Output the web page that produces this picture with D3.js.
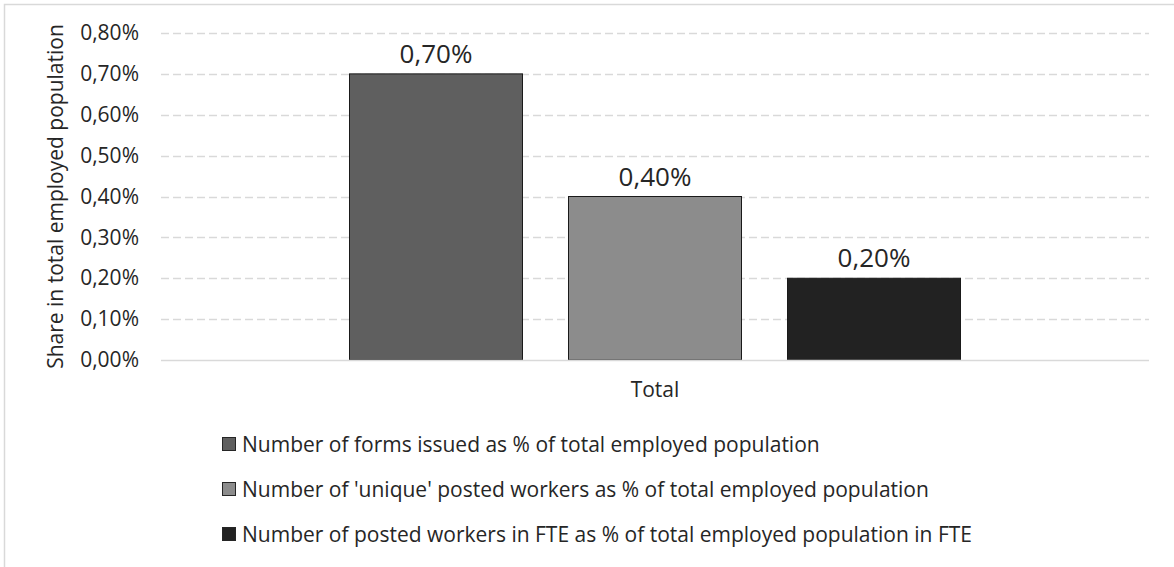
<!DOCTYPE html>
<html><head><meta charset="utf-8">
<script src="https://cdn.jsdelivr.net/npm/d3@7"></script>
<style>body{margin:0;background:#fff}svg{display:block}text{font-family:"Open Sans",sans-serif;fill:#262626}</style>
</head><body>
<script>
const categories = ["Total"];
const seriesNames = [
  "Number of forms issued as % of total employed population",
  "Number of 'unique' posted workers as % of total employed population",
  "Number of posted workers in FTE as % of total employed population in FTE"
];
const seriesValues = [0.70, 0.40, 0.20];
const seriesColors = ["#5f5f5f", "#8c8c8c", "#222222"];
const yTicks = [0, 0.1, 0.2, 0.3, 0.4, 0.5, 0.6, 0.7, 0.8];
const yTitle = "Share in total employed population";

const W = 1174, H = 567;
const svg = d3.select("body").append("svg").attr("width", W).attr("height", H);
svg.append("rect").attr("x", 4.5).attr("y", 4.5).attr("width", W + 10).attr("height", H + 10)
  .attr("fill", "#fff").attr("stroke", "#d9d9d9").attr("stroke-width", 1.5);

const m = {l: 161, r: 1149, t: 33, b: 360};
const y = d3.scaleLinear().domain([0, 0.8]).range([m.b, m.t]);
const x0 = d3.scaleBand().domain(categories).range([m.l, m.r]);
const groupW = 173 * 3 + 46 * 2;
const x1 = d3.scaleBand().domain(seriesNames)
  .range([0, groupW]).paddingInner(46 / 219);
const fmt = v => d3.format(".2f")(v).replace(".", ",") + "%";

// grid
svg.append("g").selectAll("line").data(yTicks.filter(d => d > 0)).join("line")
  .attr("x1", m.l).attr("x2", m.r).attr("y1", d => Math.round(y(d)) + 0.5).attr("y2", d => Math.round(y(d)) + 0.5)
  .attr("stroke", "#d9d9d9").attr("stroke-width", 1.3).attr("stroke-dasharray", "8,4");

// y axis labels
const yAxis = d3.axisLeft(y).tickValues(yTicks).tickFormat(fmt).tickSize(0).tickPadding(0);
const gy = svg.append("g").attr("transform", `translate(${m.l - 22},0)`).call(yAxis);
gy.select(".domain").remove();
gy.selectAll("text").style("font-size", "21px").attr("fill", "#262626").attr("font-family", "Open Sans");

// bars
const gx = x0("Total") + (x0.bandwidth() - groupW) / 2;
const g = svg.append("g").attr("transform", `translate(${gx},0)`);
g.selectAll("rect").data(seriesValues).join("rect")
  .attr("x", (d, i) => x1(seriesNames[i]))
  .attr("y", d => y(d))
  .attr("width", x1.bandwidth())
  .attr("height", d => m.b - y(d))
  .attr("fill", (d, i) => seriesColors[i])
  .attr("stroke", "#1a1a1a").attr("stroke-width", 1);
g.selectAll("text.lbl").data(seriesValues).join("text").attr("class", "lbl")
  .attr("x", (d, i) => x1(seriesNames[i]) + x1.bandwidth() / 2)
  .attr("y", d => y(d) - 11)
  .attr("text-anchor", "middle").style("font-size", "26px")
  .text(fmt);

// baseline
svg.append("line").attr("x1", m.l).attr("x2", m.r).attr("y1", m.b + 0.5).attr("y2", m.b + 0.5)
  .attr("stroke", "#d9d9d9").attr("stroke-width", 1.3);

// x axis
const xAxis = d3.axisBottom(x0).tickSize(0).tickPadding(0);
const gxa = svg.append("g").attr("transform", `translate(0,${m.b})`).call(xAxis);
gxa.select(".domain").remove();
gxa.selectAll("text").attr("dy", null).attr("y", 37).style("font-size", "21px").attr("fill", "#262626").attr("font-family", "Open Sans");

// y title
svg.append("text").attr("transform", `translate(63,${(m.t + m.b) / 2}) rotate(-90)`)
  .attr("text-anchor", "middle").style("font-size", "21px").text(yTitle);

// legend
const lg = svg.append("g");
seriesNames.forEach((s, i) => {
  const base = 452 + i * 45;
  lg.append("rect").attr("x", 222.5).attr("y", base - 14.5).attr("width", 13).attr("height", 13)
    .attr("fill", seriesColors[i]).attr("stroke", "#262626").attr("stroke-width", 1);
  lg.append("text").attr("x", 242).attr("y", base).style("font-size", "21px").text(s);
});
</script>
</body></html>
